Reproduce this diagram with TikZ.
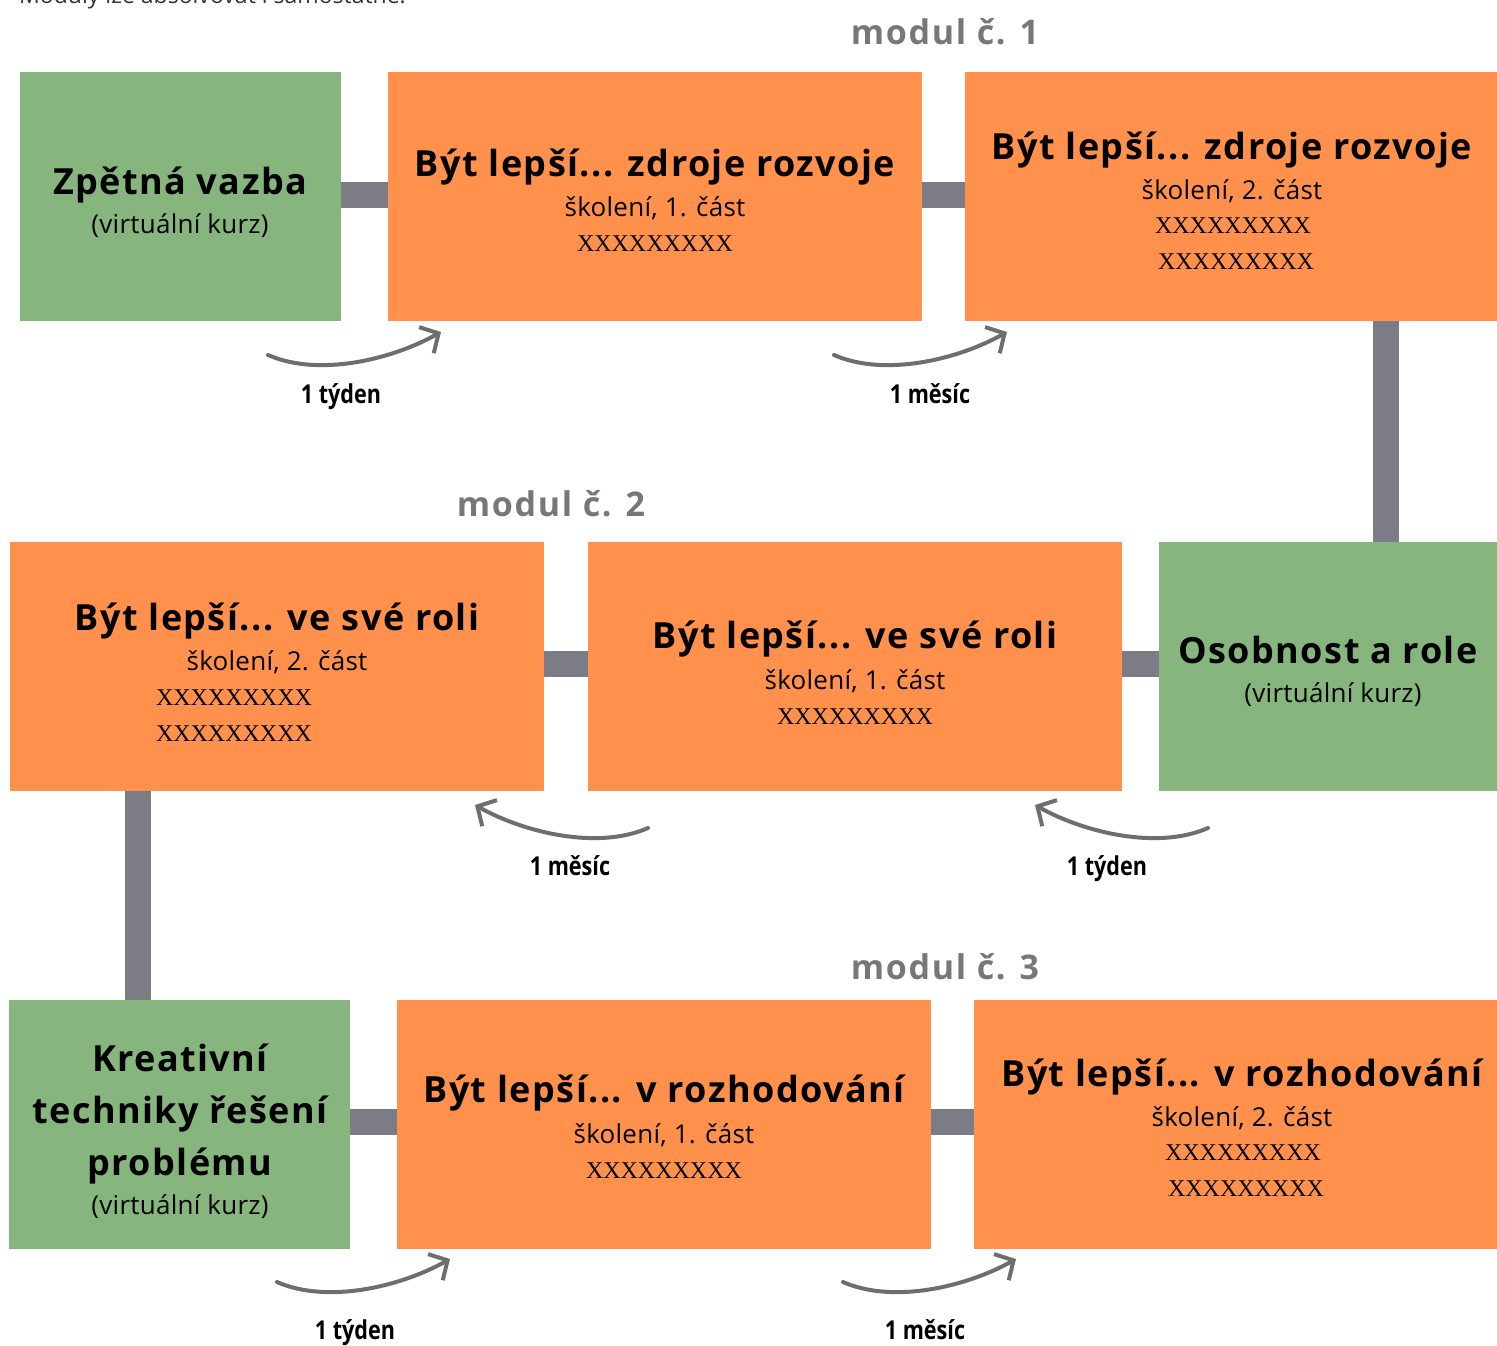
\documentclass[tikz,border=0pt]{standalone}
\usepackage{fontspec}
\setmainfont{Open Sans}
\newfontfamily\serifx{Liberation Serif}
\usetikzlibrary{arrows.meta}
\definecolor{boxgreen}{HTML}{86B57E}
\definecolor{boxorange}{HTML}{FF914D}
\definecolor{bargray}{HTML}{7B7C86}
\definecolor{modgray}{HTML}{777777}
\definecolor{arrgray}{HTML}{6E6E6E}
\tikzset{
  gbox/.style={fill=boxgreen, inner sep=0pt, anchor=north west},
  obox/.style={fill=boxorange, inner sep=0pt, anchor=north west},
  bar/.style={draw=bargray, line width=26pt},
  ttl/.style={anchor=base, inner sep=0pt, font=\fontsize{36}{40}\selectfont\bfseries\addfontfeature{LetterSpace=4}},
  sub/.style={anchor=base, inner sep=0pt, font=\fontsize{26}{30}\selectfont\addfontfeature{LetterSpace=1}},
  xx/.style={anchor=base, inner sep=0pt, font=\fontsize{24}{28}\serifx},
  modl/.style={anchor=base, inner sep=0pt, text=modgray, font=\fontsize{34}{38}\selectfont\bfseries\addfontfeature{LetterSpace=5}},
  tlab/.style={anchor=base, inner sep=0pt, font=\fontsize{26}{30}\selectfont\bfseries},
  curarr/.style={draw=arrgray, line width=4pt, line cap=round, -{Straight Barb[length=14pt,width=30pt,line width=4pt]}}
}
\newcommand{\cond}[1]{\scalebox{0.83}[1]{#1}}
\begin{document}
\begin{tikzpicture}[x=1pt,y=-1pt]
\useasboundingbox (0,0) rectangle (1497,1346);
\node[anchor=base west, inner sep=0pt, text=black!80, font=\fontsize{23}{28}\selectfont] (top) at (19,3.5) {Moduly lze absolvovat i samostatně.};
% boxes row 1
\node[gbox, minimum width=321pt, minimum height=249pt] (g1) at (20,72) {};
\node[obox, minimum width=534pt, minimum height=249pt] (o1) at (388,72) {};
\node[obox, minimum width=532pt, minimum height=249pt] (o2) at (965,72) {};
% row 2
\node[obox, minimum width=534pt, minimum height=249pt] (o3) at (10,542) {};
\node[obox, minimum width=534pt, minimum height=249pt] (o4) at (588,542) {};
\node[gbox, minimum width=338pt, minimum height=249pt] (g2) at (1159,542) {};
% row 3
\node[gbox, minimum width=341pt, minimum height=249pt] (g3) at (9,1000) {};
\node[obox, minimum width=534pt, minimum height=249pt] (o5) at (397,1000) {};
\node[obox, minimum width=523pt, minimum height=249pt] (o6) at (974,1000) {};
% bars
\draw[bar] (g1.east |- 0,195) -- (o1.west |- 0,195);
\draw[bar] (o1.east |- 0,195) -- (o2.west |- 0,195);
\draw[bar] (o2.south -| 1386,0) -- (g2.north -| 1386,0);
\draw[bar] (o3.east |- 0,664) -- (o4.west |- 0,664);
\draw[bar] (o4.east |- 0,664) -- (g2.west |- 0,664);
\draw[bar] (o3.south -| 138,0) -- (g3.north -| 138,0);
\draw[bar] (g3.east |- 0,1122) -- (o5.west |- 0,1122);
\draw[bar] (o5.east |- 0,1122) -- (o6.west |- 0,1122);
% module labels
\node[modl] (m1) at (945,45) {modul č. 1};
\node[modl] (m2) at (551,516) {modul č. 2};
\node[modl] (m3) at (945,979) {modul č. 3};
% texts row 1
\node[ttl] (g1t) at (180,194) {Zpětná vazba};
\node[sub] (g1s) at (180,233) {(virtuální kurz)};
\node[ttl] (o1t) at (655,176) {Být lepší... zdroje rozvoje};
\node[sub] (o1s) at (655,216) {školení, 1. část};
\node[xx] (o1x) at (655,251) {XXXXXXXXX};
\node[ttl] (o2t) at (1232,159) {Být lepší... zdroje rozvoje};
\node[sub] (o2s) at (1232,199) {školení, 2. část};
\node[xx] (o2x) at (1233,233) {XXXXXXXXX};
\node[xx] (o2y) at (1236,269) {XXXXXXXXX};
% texts row 2
\node[ttl] (o3t) at (277,630) {Být lepší... ve své roli};
\node[sub] (o3s) at (277,670) {školení, 2. část};
\node[xx] (o3x) at (234,705) {XXXXXXXXX};
\node[xx] (o3y) at (234,741) {XXXXXXXXX};
\node[ttl] (o4t) at (855,648) {Být lepší... ve své roli};
\node[sub] (o4s) at (855,689) {školení, 1. část};
\node[xx] (o4x) at (855,724) {XXXXXXXXX};
\node[ttl] (g2t) at (1328,663) {Osobnost a role};
\node[sub] (g2s) at (1333,702) {(virtuální kurz)};
% texts row 3
\node[ttl] (g3a) at (180,1071) {Kreativní};
\node[ttl] (g3b) at (180,1123) {techniky řešení};
\node[ttl] (g3c) at (180,1175) {problému};
\node[sub] (g3s) at (180,1214) {(virtuální kurz)};
\node[ttl] (o5t) at (664,1102) {Být lepší... v rozhodování};
\node[sub] (o5s) at (664,1143) {školení, 1. část};
\node[xx] (o5x) at (664,1178) {XXXXXXXXX};
\node[ttl] (o6t) at (1242,1086) {Být lepší... v rozhodování};
\node[sub] (o6s) at (1242,1126) {školení, 2. část};
\node[xx] (o6x) at (1243,1160) {XXXXXXXXX};
\node[xx] (o6y) at (1246,1196) {XXXXXXXXX};
% curved arrows
\coordinate (a1s) at (268,355); \coordinate (a1e) at (441,332);
\coordinate (a2s) at (834,355); \coordinate (a2e) at (1007,332);
\coordinate (a3s) at (648,828); \coordinate (a3e) at (475,805);
\coordinate (a4s) at (1208,828); \coordinate (a4e) at (1035,805);
\coordinate (a5s) at (277,1282); \coordinate (a5e) at (450,1259);
\coordinate (a6s) at (843,1282); \coordinate (a6e) at (1016,1259);
\draw[curarr] (a1s) .. controls +(50,22) and +(-50,28) .. (a1e);
\draw[curarr] (a2s) .. controls +(50,22) and +(-50,28) .. (a2e);
\draw[curarr] (a3s) .. controls +(-50,22) and +(50,28) .. (a3e);
\draw[curarr] (a4s) .. controls +(-50,22) and +(50,28) .. (a4e);
\draw[curarr] (a5s) .. controls +(50,22) and +(-50,28) .. (a5e);
\draw[curarr] (a6s) .. controls +(50,22) and +(-50,28) .. (a6e);
\node[tlab] (l1) at (341,403) {\cond{1 týden}};
\node[tlab] (l2) at (930,403) {\cond{1 měsíc}};
\node[tlab] (l3) at (570,875) {\cond{1 měsíc}};
\node[tlab] (l4) at (1107,875) {\cond{1 týden}};
\node[tlab] (l5) at (355,1339) {\cond{1 týden}};
\node[tlab] (l6) at (925,1339) {\cond{1 měsíc}};
\end{tikzpicture}
\end{document}
